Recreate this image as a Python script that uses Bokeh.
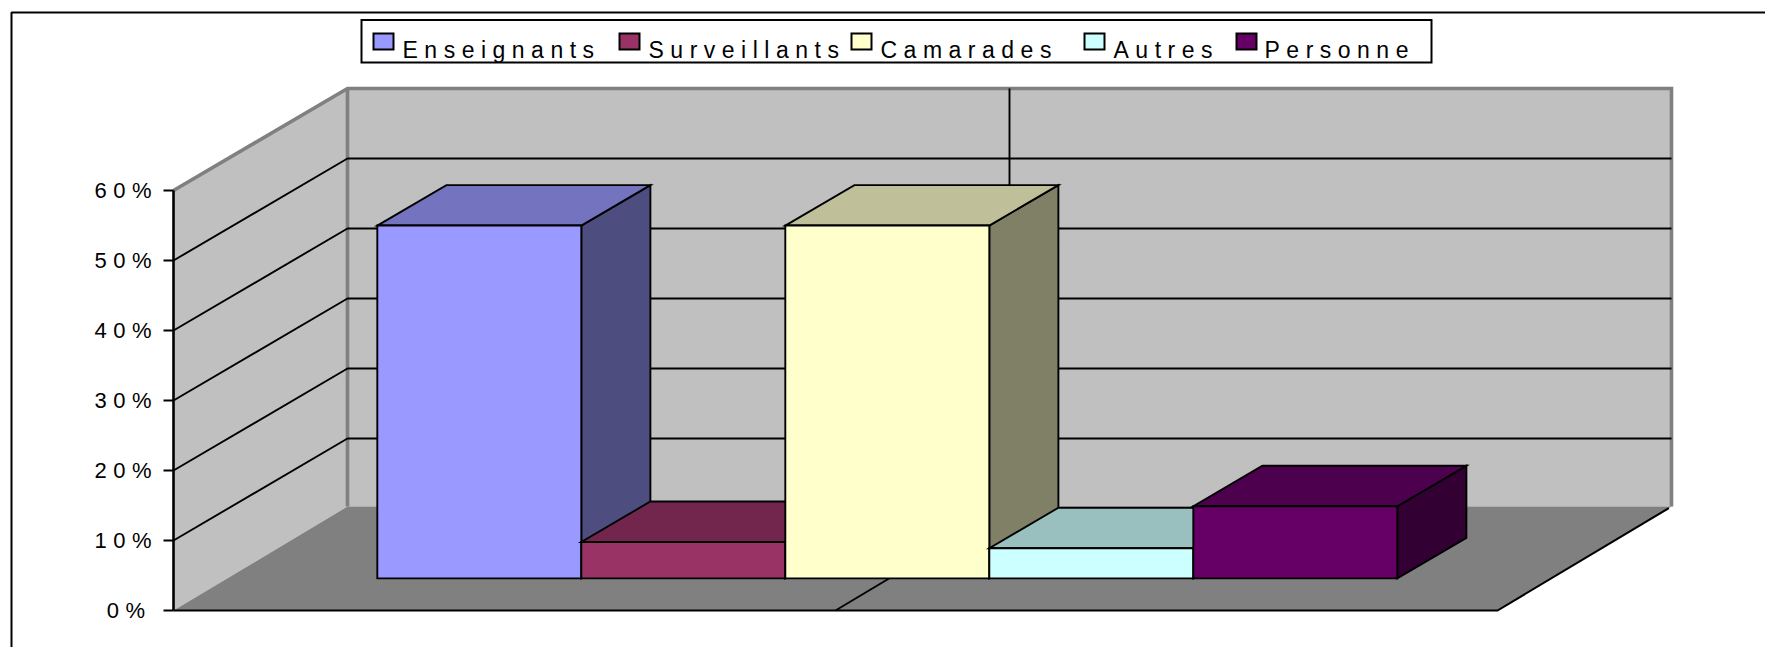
from bokeh.plotting import figure
from bokeh.models import Range1d, LinearAxis, FixedTicker, PrintfTickFormatter
from bokeh.core.properties import value
from bokeh.embed import file_html
from bokeh.resources import INLINE

categories = ["Enseignants", "Surveillants", "Camarades", "Autres", "Personne"]
values = [50.4, 5.2, 50.4, 4.3, 10.3]
front_colors = ["#9999FF", "#993366", "#FFFFCC", "#CCFFFF", "#660066"]
top_colors = ["#7373BF", "#73264D", "#BFBF99", "#99BFBF", "#4D004D"]
side_colors = ["#4D4D80", "#4D1A33", "#808066", "#668080", "#330033"]
y_ticks = [0, 10, 20, 30, 40, 50, 60]

W, H = 1765, 647
PX_PER_CAT, PX_PER_PCT = 204.0, 7.0
X0_PX, Y0_PX = 322.0, 610.0


def sx(px):
    return (px - X0_PX) / PX_PER_CAT


def sy(py):
    return (Y0_PX - py) / PX_PER_PCT


DEPTH_X, DEPTH_Y = 174 / PX_PER_CAT, 102 / PX_PER_PCT
BAR_D0, BAR_D1 = 0.315, 0.712
X_L, X_R = -149 / PX_PER_CAT, len(categories) + 155 / PX_PER_CAT
Y_MAX = max(y_ticks)
BACK_FLOOR = 2 / PX_PER_PCT   # the floor meets the back wall slightly above its 0 line


def proj(x, y, d):
    return x + d * DEPTH_X, y + d * DEPTH_Y


p = figure(width=W, height=H, output_backend="svg", toolbar_location=None,
           x_range=Range1d(sx(0), sx(W)), y_range=Range1d(sy(H), sy(0)),
           min_border=0, min_border_left=0, min_border_right=0, min_border_top=0,
           min_border_bottom=0, x_axis_location=None, y_axis_location=None,
           outline_line_color=None, background_fill_color="white",
           border_fill_color="white")
p.grid.visible = False
p.styles = {"letter-spacing": "6.5px"}

# outer chart border (the top and left edges are the only ones inside the picture)
p.line([sx(11), sx(11), sx(W)], [sy(H), sy(12), sy(12)], line_color="black", line_width=2)


def quad(corners, fill, line="black", lw=1.9):
    xs, ys = zip(*corners)
    p.patch(list(xs), list(ys), fill_color=fill, line_color=line, line_width=lw, line_join="miter")


# walls and floor
quad([proj(X_L, 0, 0), proj(X_L, Y_MAX, 0), proj(X_L, Y_MAX, 1), proj(X_L, BACK_FLOOR, 1)], "#C0C0C0", None, 0)
quad([proj(X_L, BACK_FLOOR, 1), proj(X_L, Y_MAX, 1), proj(X_R, Y_MAX, 1), proj(X_R, BACK_FLOOR, 1)], "#C0C0C0", None, 0)
quad([proj(X_L, 0, 0), proj(X_L, BACK_FLOOR, 1), proj(X_R, BACK_FLOOR, 1), proj(X_R, 0, 0)], "#808080", None, 0)

# wall edges
a, b, c, e = proj(X_L, Y_MAX, 0), proj(X_L, Y_MAX, 1), proj(X_R, Y_MAX, 1), proj(X_R, BACK_FLOOR, 1)
f = proj(X_L, BACK_FLOOR, 1)
p.line([a[0], b[0], c[0], e[0]], [a[1], b[1], c[1], e[1]], line_color="#808080", line_width=3.6, line_join="miter")
p.line([b[0], f[0]], [b[1], f[1]], line_color="#808080", line_width=3.6)

# gridlines
for t in y_ticks[1:-1]:
    q0, q1, q2 = proj(X_L, t, 0), proj(X_L, t, 1), proj(X_R, t, 1)
    p.line([q0[0], q1[0], q2[0]], [q0[1], q1[1], q2[1]], line_color="black", line_width=1.9)

# floor edges
g0, g1 = proj(X_L, 0, 0), proj(X_R, 0, 0)
g2 = proj(X_R, BACK_FLOOR, 0.985)
p.line([g0[0], g1[0], g2[0]], [g0[1], g1[1], g2[1]], line_color="black", line_width=2, line_join="miter")

# category-axis divider: along floor, then up the back wall
mid = (X_L + X_R) / 2
m0, m1, m2 = proj(mid, 0, 0), proj(mid, BACK_FLOOR, 1), proj(mid, Y_MAX, 1)
p.line([m0[0], m1[0], m2[0]], [m0[1], m1[1], m2[1]], line_color="black", line_width=1.9)

# bars
for i, val in enumerate(values):
    xa, xb = i, i + 1
    quad([proj(xb, 0, BAR_D0), proj(xb, val, BAR_D0), proj(xb, val, BAR_D1), proj(xb, 0, BAR_D1)], side_colors[i])
    quad([proj(xa, val, BAR_D0), proj(xb, val, BAR_D0), proj(xb, val, BAR_D1), proj(xa, val, BAR_D1)], top_colors[i])
    quad([proj(xa, 0, BAR_D0), proj(xb, 0, BAR_D0), proj(xb, val, BAR_D0), proj(xa, val, BAR_D0)], front_colors[i])

# value axis
axis = LinearAxis(fixed_location=X_L, ticker=FixedTicker(ticks=y_ticks),
                  formatter=PrintfTickFormatter(format="%d%%"), bounds=(0, Y_MAX),
                  axis_line_color="black", axis_line_width=2.6,
                  major_tick_line_color="black", major_tick_line_width=2,
                  major_tick_out=10, major_tick_in=0, minor_tick_line_color=None,
                  major_label_standoff=25,
                  major_label_text_font="Liberation Sans", major_label_text_font_size="22px",
                  major_label_text_color="black", major_label_text_font_style="normal",
                  major_label_text_baseline="top", major_label_text_align="right")
p.add_layout(axis, "left")

# legend
quad([(sx(361), sy(19.5)), (sx(1431), sy(19.5)), (sx(1431), sy(62)), (sx(361), sy(62))], "white", "black", 2)
swatch_left = [373, 619, 851, 1084, 1236]
label_left = [402, 648, 880, 1113, 1264]
for i, name in enumerate(categories):
    l = swatch_left[i]
    quad([(sx(l), sy(33)), (sx(l + 20), sy(33)), (sx(l + 20), sy(49)), (sx(l), sy(49))], front_colors[i], "black", 2)
    p.text([sx(label_left[i])], [sy(49.5)], text=[name], text_font=value("Liberation Sans"),
           text_font_size="23px", text_color="black", text_align="left", text_baseline="alphabetic")

open("out.html", "w").write(file_html(p, INLINE))
